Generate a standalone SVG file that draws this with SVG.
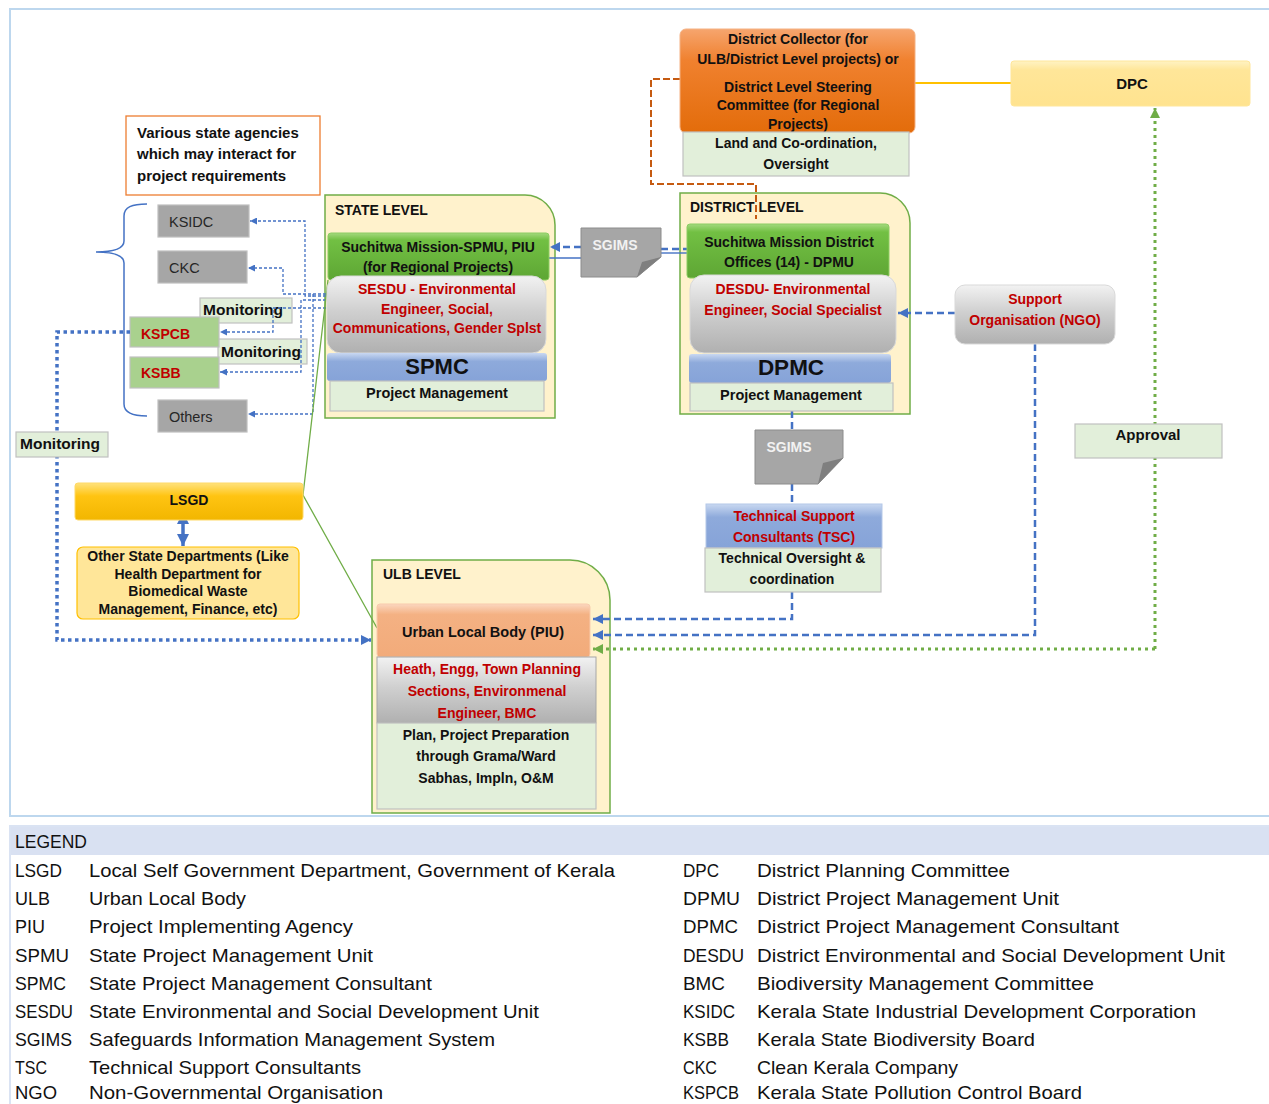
<svg xmlns="http://www.w3.org/2000/svg" width="1269" height="1104" viewBox="0 0 1269 1104">
<defs>
<style>
.t{font-family:"Liberation Sans",Arial,sans-serif;font-weight:bold;font-size:14px;fill:#111}
.c{text-anchor:middle}
.r{fill:#c00000}
.n{font-weight:normal}
.lg{font-family:"Liberation Sans",Arial,sans-serif;font-size:19px;fill:#111}
.cont{fill:#fff2cc;stroke:#70ad47;stroke-width:1.5}
.lgr{fill:#e2efda;stroke:#c0c0c0;stroke-width:1.2}
.gry{fill:#a6a6a6;stroke:#bfbfbf;stroke-width:1.2}
.kgr{fill:#a9d18e;stroke:#c0c0c0;stroke-width:1.2}
.thin{fill:none;stroke:#4472c4;stroke-width:1.3;stroke-dasharray:3 2}
.dsh{fill:none;stroke:#4472c4;stroke-width:2.5;stroke-dasharray:7 4}
.sol{fill:none;stroke:#4472c4;stroke-width:1.4}
.gdot{fill:none;stroke:#70ad47;stroke-width:3;stroke-dasharray:3 4}
.bdot{fill:none;stroke:#4472c4;stroke-width:3.5;stroke-dasharray:3.5 3.5}
</style>
<linearGradient id="gGreen" x1="0" y1="0" x2="0" y2="1"><stop offset="0" stop-color="#a4d97e"/><stop offset="0.15" stop-color="#72c043"/><stop offset="1" stop-color="#5ea634"/></linearGradient>
<linearGradient id="gGray" x1="0" y1="0" x2="0" y2="1"><stop offset="0" stop-color="#f2f2f2"/><stop offset="0.45" stop-color="#d0d0d0"/><stop offset="1" stop-color="#b0b0b0"/></linearGradient>
<linearGradient id="gOrange" x1="0" y1="0" x2="0" y2="1"><stop offset="0" stop-color="#f6a56e"/><stop offset="0.3" stop-color="#f0812f"/><stop offset="1" stop-color="#e36c0a"/></linearGradient>
<linearGradient id="gYellow" x1="0" y1="0" x2="0" y2="1"><stop offset="0" stop-color="#ffe27d"/><stop offset="0.35" stop-color="#ffc412"/><stop offset="1" stop-color="#f2b600"/></linearGradient>
<linearGradient id="gBlue" x1="0" y1="0" x2="0" y2="1"><stop offset="0" stop-color="#c9d8f1"/><stop offset="0.3" stop-color="#8eaadb"/><stop offset="1" stop-color="#86a3d8"/></linearGradient>
<linearGradient id="gPeach" x1="0" y1="0" x2="0" y2="1"><stop offset="0" stop-color="#fbd7bf"/><stop offset="0.2" stop-color="#f4b183"/><stop offset="1" stop-color="#f2ab7a"/></linearGradient>
<linearGradient id="gDPC" x1="0" y1="0" x2="0" y2="1"><stop offset="0" stop-color="#fff3c4"/><stop offset="0.2" stop-color="#ffe699"/><stop offset="1" stop-color="#ffe38f"/></linearGradient>
<marker id="aS" viewBox="0 0 10 10" refX="10" refY="5" markerUnits="userSpaceOnUse" markerWidth="8" markerHeight="7" orient="auto-start-reverse"><path d="M0,0 L10,5 L0,10 z" fill="#4472c4"/></marker>
<marker id="aM" viewBox="0 0 10 10" refX="10" refY="5" markerUnits="userSpaceOnUse" markerWidth="11" markerHeight="10" orient="auto-start-reverse"><path d="M0,0 L10,5 L0,10 z" fill="#4472c4"/></marker>
<marker id="aG" viewBox="0 0 10 10" refX="10" refY="5" markerUnits="userSpaceOnUse" markerWidth="11" markerHeight="10" orient="auto-start-reverse"><path d="M0,0 L10,5 L0,10 z" fill="#70ad47"/></marker>
<marker id="aD" viewBox="0 0 10 10" refX="10" refY="5" markerUnits="userSpaceOnUse" markerWidth="12" markerHeight="13" orient="auto-start-reverse"><path d="M0,0 L10,5 L0,10 z" fill="#4472c4"/></marker>
</defs>

<rect x="0" y="0" width="1269" height="1104" fill="#ffffff"/>
<!-- frame -->
<rect x="10" y="9" width="1280" height="807" fill="none" stroke="#bdd7ee" stroke-width="2"/>

<!-- legend -->
<g id="legend">
<rect x="10" y="826" width="1280" height="300" fill="none" stroke="#dae3f3" stroke-width="2"/>
<rect x="11" y="827" width="1270" height="28" fill="#d9e1f2"/>
<text class="lg" x="15" y="848" textLength="72" lengthAdjust="spacingAndGlyphs">LEGEND</text>
<text class="lg" x="15" y="877" textLength="47" lengthAdjust="spacingAndGlyphs">LSGD</text>
<text class="lg" x="89" y="877" textLength="526" lengthAdjust="spacingAndGlyphs">Local Self Government Department, Government of Kerala</text>
<text class="lg" x="15" y="905" textLength="35" lengthAdjust="spacingAndGlyphs">ULB</text>
<text class="lg" x="89" y="905" textLength="157" lengthAdjust="spacingAndGlyphs">Urban Local Body</text>
<text class="lg" x="15" y="933" textLength="30" lengthAdjust="spacingAndGlyphs">PIU</text>
<text class="lg" x="89" y="933" textLength="264" lengthAdjust="spacingAndGlyphs">Project Implementing Agency</text>
<text class="lg" x="15" y="962" textLength="54" lengthAdjust="spacingAndGlyphs">SPMU</text>
<text class="lg" x="89" y="962" textLength="284" lengthAdjust="spacingAndGlyphs">State Project Management Unit</text>
<text class="lg" x="15" y="990" textLength="51" lengthAdjust="spacingAndGlyphs">SPMC</text>
<text class="lg" x="89" y="990" textLength="343" lengthAdjust="spacingAndGlyphs">State Project Management Consultant</text>
<text class="lg" x="15" y="1018" textLength="58" lengthAdjust="spacingAndGlyphs">SESDU</text>
<text class="lg" x="89" y="1018" textLength="450" lengthAdjust="spacingAndGlyphs">State Environmental and Social Development Unit</text>
<text class="lg" x="15" y="1046" textLength="57" lengthAdjust="spacingAndGlyphs">SGIMS</text>
<text class="lg" x="89" y="1046" textLength="406" lengthAdjust="spacingAndGlyphs">Safeguards Information Management System</text>
<text class="lg" x="15" y="1074" textLength="32" lengthAdjust="spacingAndGlyphs">TSC</text>
<text class="lg" x="89" y="1074" textLength="272" lengthAdjust="spacingAndGlyphs">Technical Support Consultants</text>
<text class="lg" x="15" y="1099" textLength="42" lengthAdjust="spacingAndGlyphs">NGO</text>
<text class="lg" x="89" y="1099" textLength="294" lengthAdjust="spacingAndGlyphs">Non-Governmental Organisation</text>
<text class="lg" x="683" y="877" textLength="36" lengthAdjust="spacingAndGlyphs">DPC</text>
<text class="lg" x="757" y="877" textLength="253" lengthAdjust="spacingAndGlyphs">District Planning Committee</text>
<text class="lg" x="683" y="905" textLength="57" lengthAdjust="spacingAndGlyphs">DPMU</text>
<text class="lg" x="757" y="905" textLength="302" lengthAdjust="spacingAndGlyphs">District Project Management Unit</text>
<text class="lg" x="683" y="933" textLength="55" lengthAdjust="spacingAndGlyphs">DPMC</text>
<text class="lg" x="757" y="933" textLength="362" lengthAdjust="spacingAndGlyphs">District Project Management Consultant</text>
<text class="lg" x="683" y="962" textLength="61" lengthAdjust="spacingAndGlyphs">DESDU</text>
<text class="lg" x="757" y="962" textLength="468" lengthAdjust="spacingAndGlyphs">District Environmental and Social Development Unit</text>
<text class="lg" x="683" y="990" textLength="42" lengthAdjust="spacingAndGlyphs">BMC</text>
<text class="lg" x="757" y="990" textLength="337" lengthAdjust="spacingAndGlyphs">Biodiversity Management Committee</text>
<text class="lg" x="683" y="1018" textLength="52" lengthAdjust="spacingAndGlyphs">KSIDC</text>
<text class="lg" x="757" y="1018" textLength="439" lengthAdjust="spacingAndGlyphs">Kerala State Industrial Development Corporation</text>
<text class="lg" x="683" y="1046" textLength="46" lengthAdjust="spacingAndGlyphs">KSBB</text>
<text class="lg" x="757" y="1046" textLength="278" lengthAdjust="spacingAndGlyphs">Kerala State Biodiversity Board</text>
<text class="lg" x="683" y="1074" textLength="34" lengthAdjust="spacingAndGlyphs">CKC</text>
<text class="lg" x="757" y="1074" textLength="201" lengthAdjust="spacingAndGlyphs">Clean Kerala Company</text>
<text class="lg" x="683" y="1099" textLength="56" lengthAdjust="spacingAndGlyphs">KSPCB</text>
<text class="lg" x="757" y="1099" textLength="325" lengthAdjust="spacingAndGlyphs">Kerala State Pollution Control Board</text>
</g>

<!-- containers -->
<g id="state-level">
<path class="cont" d="M325,195 H525 A30,30 0 0 1 555,225 V418 H325 Z"/>
<text class="t" x="335" y="215">STATE LEVEL</text>
</g>
<g id="district-level">
<path class="cont" d="M680,193 H880 A30,30 0 0 1 910,223 V414 H680 Z"/>
<text class="t" x="690" y="212">DISTRICT LEVEL</text>
</g>
<g id="ulb-level">
<path class="cont" d="M372,560 H570 A40,40 0 0 1 610,600 V813 H372 Z"/>
<text class="t" x="383" y="579">ULB LEVEL</text>
</g>

<!-- agency boxes on the left -->
<g id="various-agencies">
<rect x="126" y="116" width="194" height="79" fill="#ffffff" stroke="#ed7d31" stroke-width="1.3"/>
<text class="t" x="137" y="138" style="font-size:15px">Various state agencies</text>
<text class="t" x="137" y="159" style="font-size:15px">which may interact for</text>
<text class="t" x="137" y="181" style="font-size:15px">project requirements</text>
</g>
<g id="monitoring-1">
<rect class="lgr" x="200" y="298" width="92" height="25"/>
<text class="t" x="203" y="315" style="font-size:15.5px">Monitoring</text>
</g>
<g id="monitoring-2">
<rect class="lgr" x="218" y="339" width="89" height="25"/>
<text class="t" x="221" y="357" style="font-size:15.5px">Monitoring</text>
</g>
<g id="ksidc">
<rect class="gry" x="158" y="205" width="91" height="32"/>
<text class="t n" x="169" y="227" style="font-size:14.5px;fill:#262626">KSIDC</text>
</g>
<g id="ckc">
<rect class="gry" x="158" y="251" width="89" height="32"/>
<text class="t n" x="169" y="273" style="font-size:14.5px;fill:#262626">CKC</text>
</g>
<g id="kspcb">
<rect class="kgr" x="130" y="317" width="89" height="30"/>
<text class="t r" x="141" y="339">KSPCB</text>
</g>
<g id="ksbb">
<rect class="kgr" x="130" y="357" width="89" height="31"/>
<text class="t r" x="141" y="378">KSBB</text>
</g>
<g id="others">
<rect class="gry" x="158" y="400" width="89" height="32"/>
<text class="t n" x="169" y="422" style="font-size:14.5px;fill:#262626">Others</text>
</g>

<!-- connectors -->
<g id="connectors">
<path d="M147,204 C132,204 124,207 124,216 V241 C124,248 116,252 96,252 C116,252 124,256 124,263 V404 C124,412 132,416 147,416" fill="none" stroke="#4472c4" stroke-width="1.5"/>
<path class="thin" d="M326,296 H305 V221 H250" marker-end="url(#aS)"/>
<path class="thin" d="M326,300 H301 V372 H220" marker-end="url(#aS)"/>
<path class="thin" d="M326,294 H283 V268 H248" marker-end="url(#aS)"/>
<path class="thin" d="M326,308 H273 V332 H220" marker-end="url(#aS)"/>
<path class="thin" d="M313,294 V414 H248" marker-end="url(#aS)"/>
<path class="bdot" d="M130,332 H57 V640 H371" marker-end="url(#aM)"/>
<path d="M328,280 L303,495 L377,628" fill="none" stroke="#70ad47" stroke-width="1.3"/>
<path d="M183,512 V546" fill="none" stroke="#4472c4" stroke-width="3.5" marker-start="url(#aD)" marker-end="url(#aD)"/>
<path class="dsh" d="M581,247 H550" marker-end="url(#aM)"/>
<path class="sol" d="M548,258 H581"/>
<path class="dsh" d="M661,249 H687"/>
<path class="sol" d="M661,253 H687"/>
<path class="dsh" d="M792,411 V430"/>
<path class="dsh" d="M792,484 V504"/>
<path class="dsh" d="M792,592 V619 H593" marker-end="url(#aM)"/>
<path class="dsh" d="M955,313 H898" marker-end="url(#aM)"/>
<path class="dsh" d="M1035,344 V635 H593" marker-end="url(#aM)"/>
<path class="gdot" d="M1155,649 V108" marker-end="url(#aG)"/>
<path class="gdot" d="M1155,649 H593" marker-end="url(#aG)"/>
<path d="M915,83 H1011" fill="none" stroke="#ffc000" stroke-width="2"/>
<path d="M680,79 H651 V184 H756 V219" fill="none" stroke="#c55a11" stroke-width="2" stroke-dasharray="7 3"/>
</g>

<!-- state level nodes -->
<g id="spmu">
<rect x="328" y="233" width="221" height="47" rx="3" fill="url(#gGreen)" stroke="#8ccc63" stroke-width="1"/>
<text class="t c" x="438" y="252">Suchitwa Mission-SPMU, PIU</text>
<text class="t c" x="438" y="272">(for Regional Projects)</text>
</g>
<g id="sesdu">
<rect x="327" y="276" width="219" height="77" rx="14" fill="url(#gGray)" stroke="#d9d9d9" stroke-width="1"/>
<text class="t c r" x="437" y="294">SESDU - Environmental</text>
<text class="t c r" x="437" y="314">Engineer, Social,</text>
<text class="t c r" x="437" y="333">Communications, Gender Splst</text>
</g>
<g id="spmc">
<rect x="327" y="353" width="220" height="28" rx="3" fill="url(#gBlue)"/>
<text class="t c" x="437" y="374" style="font-size:22px">SPMC</text>
</g>
<g id="spmc-pm">
<rect class="lgr" x="330" y="381" width="214" height="30"/>
<text class="t c" x="437" y="398" style="font-size:14.5px">Project Management</text>
</g>

<!-- SGIMS between state and district -->
<g id="sgims-1">
<path d="M581,228 H661 V257 L637,277 H581 Z" fill="#a6a6a6" stroke="#8c8c8c" stroke-width="1"/>
<path d="M661,257 L637,277 L642,262 Z" fill="#7f7f7f"/>
<text class="t c" x="615" y="250" style="fill:#f2f2f2">SGIMS</text>
</g>

<!-- district collector -->
<g id="district-collector">
<rect x="680" y="29" width="235" height="104" rx="6" fill="url(#gOrange)" stroke="#f4b183" stroke-width="1"/>
<text class="t c" x="798" y="44">District Collector (for</text>
<text class="t c" x="798" y="64">ULB/District Level projects) or</text>
<text class="t c" x="798" y="92">District Level Steering</text>
<text class="t c" x="798" y="110">Committee (for Regional</text>
<text class="t c" x="798" y="129">Projects)</text>
</g>
<g id="land-coordination">
<rect class="lgr" x="683" y="132" width="226" height="44"/>
<text class="t c" x="796" y="148">Land and Co-ordination,</text>
<text class="t c" x="796" y="169">Oversight</text>
</g>
<g id="dpc">
<rect x="1011" y="61" width="239" height="45" rx="3" fill="url(#gDPC)" stroke="#ffe699" stroke-width="1"/>
<text class="t c" x="1132" y="89" style="font-size:15px">DPC</text>
</g>

<!-- district level nodes -->
<g id="dpmu">
<rect x="687" y="224" width="202" height="54" rx="3" fill="url(#gGreen)" stroke="#8ccc63" stroke-width="1"/>
<text class="t c" x="789" y="247">Suchitwa Mission District</text>
<text class="t c" x="789" y="267">Offices (14) - DPMU</text>
</g>
<g id="desdu">
<rect x="690" y="275" width="206" height="78" rx="14" fill="url(#gGray)" stroke="#d9d9d9" stroke-width="1"/>
<text class="t c r" x="793" y="294">DESDU- Environmental</text>
<text class="t c r" x="793" y="315">Engineer, Social Specialist</text>
</g>
<g id="dpmc">
<rect x="689" y="354" width="202" height="29" rx="3" fill="url(#gBlue)"/>
<text class="t c" x="791" y="375" style="font-size:22.5px">DPMC</text>
</g>
<g id="dpmc-pm">
<rect class="lgr" x="690" y="383" width="203" height="28"/>
<text class="t c" x="791" y="400" style="font-size:14.5px">Project Management</text>
</g>

<g id="ngo">
<rect x="955" y="285" width="160" height="59" rx="10" fill="url(#gGray)" stroke="#d9d9d9" stroke-width="1"/>
<text class="t c r" x="1035" y="304">Support</text>
<text class="t c r" x="1035" y="325">Organisation (NGO)</text>
</g>

<g id="sgims-2">
<path d="M755,430 H843 V458 L818,484 H755 Z" fill="#a6a6a6" stroke="#8c8c8c" stroke-width="1"/>
<path d="M843,458 L818,484 L823,463 Z" fill="#7f7f7f"/>
<text class="t c" x="789" y="452" style="fill:#f2f2f2">SGIMS</text>
</g>

<g id="tsc">
<rect x="706" y="504" width="176" height="44" fill="url(#gBlue)" stroke="#b4c7e7" stroke-width="1"/>
<text class="t c r" x="794" y="521">Technical Support</text>
<text class="t c r" x="794" y="542">Consultants (TSC)</text>
</g>
<g id="tsc-oversight">
<rect class="lgr" x="705" y="548" width="176" height="44"/>
<text class="t c" x="792" y="563">Technical Oversight &amp;</text>
<text class="t c" x="792" y="584">coordination</text>
</g>

<g id="approval">
<rect class="lgr" x="1075" y="424" width="147" height="34"/>
<text class="t c" x="1148" y="440" style="font-size:15px">Approval</text>
</g>

<g id="monitoring-3">
<rect class="lgr" x="16" y="432" width="92" height="25"/>
<text class="t" x="20" y="449" style="font-size:15.5px">Monitoring</text>
</g>

<g id="lsgd">
<rect x="75" y="483" width="228" height="37" rx="3" fill="url(#gYellow)" stroke="#ffd966" stroke-width="1"/>
<text class="t c" x="189" y="505">LSGD</text>
</g>
<g id="other-departments">
<rect x="77" y="547" width="222" height="72" rx="6" fill="#ffe699" stroke="#ffc000" stroke-width="1.2"/>
<text class="t c" x="188" y="561">Other State Departments (Like</text>
<text class="t c" x="188" y="579">Health Department for</text>
<text class="t c" x="188" y="596">Biomedical Waste</text>
<text class="t c" x="188" y="614">Management, Finance, etc)</text>
</g>

<!-- ULB level nodes -->
<g id="ulb-piu">
<rect x="377" y="604" width="213" height="53" rx="3" fill="url(#gPeach)" stroke="#f8cbad" stroke-width="1"/>
<text class="t c" x="483" y="637" style="font-size:14.5px">Urban Local Body (PIU)</text>
</g>
<g id="ulb-sections">
<rect x="377" y="657" width="219" height="66" fill="url(#gGray)" stroke="#a6a6a6" stroke-width="1"/>
<text class="t c r" x="487" y="674">Heath, Engg, Town Planning</text>
<text class="t c r" x="487" y="696">Sections, Environmenal</text>
<text class="t c r" x="487" y="718">Engineer, BMC</text>
</g>
<g id="ulb-plan">
<rect class="lgr" x="377" y="723" width="219" height="86"/>
<text class="t c" x="486" y="740">Plan, Project Preparation</text>
<text class="t c" x="486" y="761">through Grama/Ward</text>
<text class="t c" x="486" y="783">Sabhas, Impln, O&amp;M</text>
</g>
</svg>
